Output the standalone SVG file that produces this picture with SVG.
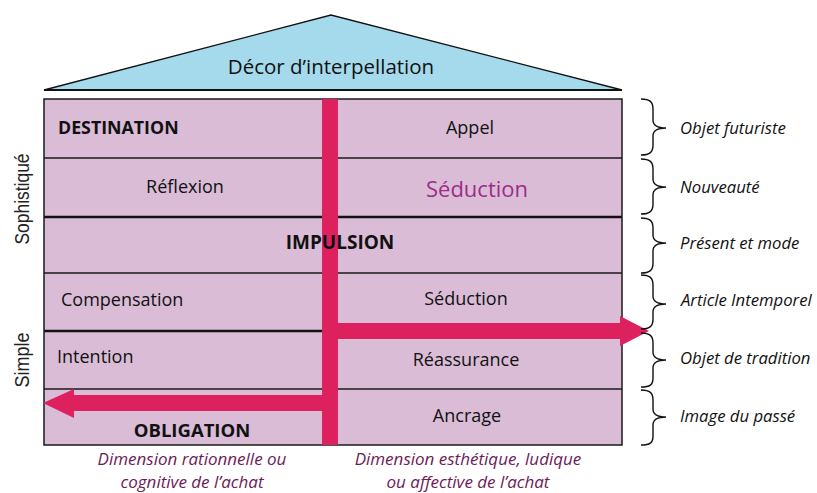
<svg xmlns="http://www.w3.org/2000/svg" width="817" height="493" viewBox="0 0 817 493">
  <style>
    .cell { fill: #dbbcd7; }
    .rule { stroke: #1a1a1a; stroke-width: 1.5; fill: none; }
    .rule-bold { stroke: #111; stroke-width: 2.6; fill: none; }
    .txt { font-family: "Open Sans", "Liberation Sans", sans-serif; font-size: 18px; fill: #111; }
    .bold { font-weight: bold; }
    .axis { font-family: "Liberation Sans", Arial, sans-serif; font-size: 20px; fill: #222; }
    .note { font-family: "Open Sans", "Liberation Sans", sans-serif; font-style: italic; font-size: 16.7px; fill: #111; }
    .dim { font-family: "Open Sans", "Liberation Sans", sans-serif; font-style: italic; font-size: 17px; fill: #6e1a57; }
    .brace { stroke: #111; stroke-width: 1.4; fill: none; }
    .flow { fill: #dc215e; }
  </style>

  <!-- Roof -->
  <g id="roof">
    <polygon points="44,90 331,15 622,90" fill="#a5d9ec" stroke="#111" stroke-width="1.3"/>
    <line x1="44" y1="90" x2="622" y2="90" stroke="#111" stroke-width="2"/>
    <text class="txt" x="331" y="74" text-anchor="middle" style="font-size:20.5px">Décor d’interpellation</text>
  </g>

  <!-- Body of the house -->
  <g id="body">
    <rect class="cell" x="44" y="99" width="578" height="346"/>
    <line class="rule" x1="44" y1="158" x2="622" y2="158"/>
    <line class="rule-bold" x1="44" y1="217" x2="622" y2="217"/>
    <line class="rule" x1="44" y1="273" x2="622" y2="273"/>
    <line class="rule-bold" x1="44" y1="331" x2="330" y2="331"/>
    <line class="rule" x1="330" y1="331" x2="622" y2="331"/>
    <line class="rule" x1="44" y1="389" x2="622" y2="389"/>
    <rect x="44" y="99" width="578" height="346" fill="none" stroke="#1a1a1a" stroke-width="1.5"/>
  </g>

  <!-- Connectors: the two flows from the central axis -->
  <g id="connectors">
    <rect class="flow" x="322" y="99" width="16" height="346"/>
    <polygon class="flow" points="338,323 620,323 620,316 649,331 620,346 620,339 338,339"/>
    <polygon class="flow" points="322,395 74,395 74,389 43,403 74,418 74,411 322,411"/>
  </g>

  <!-- Cells -->
  <g id="destination"><text class="txt bold" x="58" y="134" style="font-size:17.8px">DESTINATION</text></g>
  <g id="appel"><text class="txt" x="470" y="134" text-anchor="middle">Appel</text></g>
  <g id="reflexion"><text class="txt" x="185" y="193" text-anchor="middle">Réflexion</text></g>
  <g id="seduction-haut"><text class="txt" x="477" y="197" text-anchor="middle" style="font-size:22px;fill:#9b2d86">Séduction</text></g>
  <g id="impulsion"><text class="txt bold" x="340" y="249" text-anchor="middle" style="font-size:19px">IMPULSION</text></g>
  <g id="compensation"><text class="txt" x="61" y="306">Compensation</text></g>
  <g id="seduction-bas"><text class="txt" x="466" y="305" text-anchor="middle">Séduction</text></g>
  <g id="intention"><text class="txt" x="57" y="363">Intention</text></g>
  <g id="reassurance"><text class="txt" x="466" y="366" text-anchor="middle">Réassurance</text></g>
  <g id="ancrage"><text class="txt" x="467" y="422" text-anchor="middle">Ancrage</text></g>
  <g id="obligation"><text class="txt bold" x="192" y="437" text-anchor="middle" style="font-size:18.5px">OBLIGATION</text></g>

  <!-- Vertical axis labels -->
  <g id="axis-labels">
    <text class="axis" text-anchor="middle" textLength="91" lengthAdjust="spacingAndGlyphs" transform="translate(29,199) rotate(-90)">Sophistiqué</text>
    <text class="axis" text-anchor="middle" textLength="55" lengthAdjust="spacingAndGlyphs" transform="translate(29,360) rotate(-90)">Simple</text>
  </g>

  <!-- Braces with their object types -->
  <g id="braces">
    <path class="brace" d="M641,99 C650,99 653,102 653,109 L653,120 C653,125 656,128 666,128 C656,128 653,131 653,136 L653,145 C653,152 650,155 641,155"/>
    <path class="brace" d="M641,159 C650,159 653,162 653,169 L653,179 C653,184 656,187 666,187 C656,187 653,190 653,195 L653,204 C653,211 650,214 641,214"/>
    <path class="brace" d="M641,218 C650,218 653,221 653,228 L653,235 C653,240 656,243 666,243 C656,243 653,246 653,251 L653,263 C653,270 650,273 641,273"/>
    <path class="brace" d="M641,275 C650,275 653,278 653,285 L653,296 C653,301 656,304 666,304 C656,304 653,307 653,312 L653,319 C653,326 650,329 641,329"/>
    <path class="brace" d="M641,333 C650,333 653,336 653,343 L653,352 C653,357 656,360 666,360 C656,360 653,363 653,368 L653,378 C653,385 650,387 641,387"/>
    <path class="brace" d="M641,390 C650,390 653,393 653,400 L653,409 C653,414 656,417 666,417 C656,417 653,420 653,425 L653,436 C653,443 650,445 641,445"/>
  </g>
  <g id="object-types">
    <text class="note" x="680" y="134">Objet futuriste</text>
    <text class="note" x="680" y="193">Nouveauté</text>
    <text class="note" x="680" y="249">Présent et mode</text>
    <text class="note" x="681" y="306">Article Intemporel</text>
    <text class="note" x="680" y="364">Objet de tradition</text>
    <text class="note" x="680" y="422">Image du passé</text>
  </g>

  <!-- Dimensions under the house -->
  <g id="dimensions">
    <text class="dim" x="192" y="465" text-anchor="middle">Dimension rationnelle ou</text>
    <text class="dim" x="192" y="488" text-anchor="middle">cognitive de l’achat</text>
    <text class="dim" x="468" y="465" text-anchor="middle">Dimension esthétique, ludique</text>
    <text class="dim" x="468" y="488" text-anchor="middle">ou affective de l’achat</text>
  </g>
</svg>
